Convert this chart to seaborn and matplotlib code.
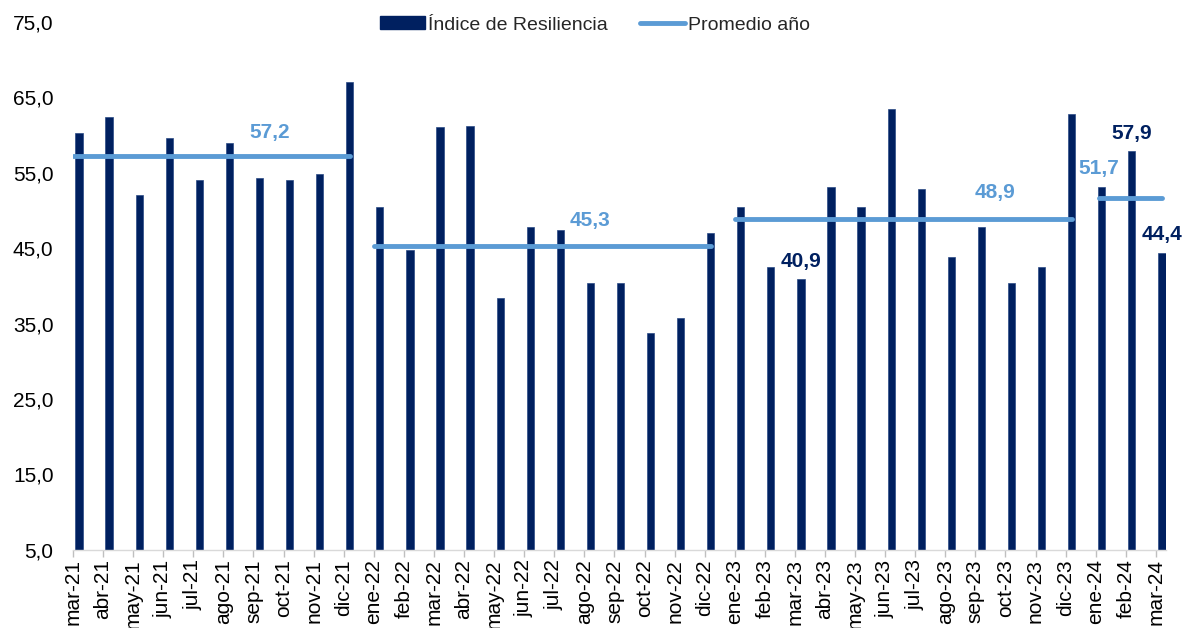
import numpy as np
import pandas as pd
import matplotlib
matplotlib.use("Agg")
import matplotlib.pyplot as plt
from matplotlib.patches import Patch
from matplotlib.lines import Line2D
import seaborn as sns

# ---------------- data ----------------
meses = ["mar-21", "abr-21", "may-21", "jun-21", "jul-21", "ago-21", "sep-21", "oct-21", "nov-21", "dic-21",
         "ene-22", "feb-22", "mar-22", "abr-22", "may-22", "jun-22", "jul-22", "ago-22", "sep-22", "oct-22",
         "nov-22", "dic-22",
         "ene-23", "feb-23", "mar-23", "abr-23", "may-23", "jun-23", "jul-23", "ago-23", "sep-23", "oct-23",
         "nov-23", "dic-23",
         "ene-24", "feb-24", "mar-24"]
indice = [60.3, 62.4, 52.0, 59.6, 54.0, 59.0, 54.3, 54.0, 54.9, 67.0,
          50.4, 44.7, 61.1, 61.2, 38.4, 47.8, 47.4, 40.4, 40.4, 33.7, 35.7, 47.0,
          50.4, 42.5, 40.9, 53.1, 50.4, 63.4, 52.8, 43.8, 47.8, 40.4, 42.5, 62.8,
          53.1, 57.9, 44.4]
anios = ["2021", "2022", "2023", "2024"]
promedio_anio = [57.2, 45.3, 48.9, 51.7]
etiquetados = ["mar-23", "feb-24", "mar-24"]
y_ticks = [5, 15, 25, 35, 45, 55, 65, 75]

# ---------------- style ----------------
sns.set_theme(style="white")
plt.rcParams["font.family"] = ["Liberation Sans", "DejaVu Sans"]

NAVY = "#002060"
LBLUE = "#5B9BD5"

df = pd.DataFrame({"mes": meses, "valor": indice})
df["anio"] = ["20" + m.split("-")[1] for m in meses]

W, H = 1185, 628
fig = plt.figure(figsize=(W / 100, H / 100), dpi=100)
x0, x1 = -0.2, 36.12
px_per_unit = 30.08
left_px = 73
right_px = left_px + (x1 - x0) * px_per_unit
bottom_px, top_px = 549.7, 22
ax = fig.add_axes([left_px / W, 1 - bottom_px / H, (right_px - left_px) / W, (bottom_px - top_px) / H])

sns.barplot(data=df, x="mes", y="valor", order=meses, color=NAVY, width=0.24,
            saturation=1, ax=ax, zorder=2, edgecolor="#2A4A85", linewidth=0.5)

# yearly averages
pos = {m: i for i, m in enumerate(meses)}
for anio, prom in zip(anios, promedio_anio):
    idx = [pos[m] for m in df.loc[df["anio"] == anio, "mes"]]
    xs = [idx[0] - (0.1 if anio == "2024" else 0.2), idx[-1]]
    sns.lineplot(x=xs, y=[prom, prom], color=LBLUE, linewidth=3.5, ax=ax, zorder=3,
                 solid_capstyle="round")

# average labels
lbl_x = {"2021": 6.35, "2022": 17.0, "2023": 30.45, "2024": 33.9}
lbl_dy = {"2021": 3.2, "2022": 3.4, "2023": 3.5, "2024": 3.9}
for anio, prom in zip(anios, promedio_anio):
    ax.text(lbl_x[anio], prom + lbl_dy[anio], f"{prom:.1f}".replace(".", ","),
            color=LBLUE, fontsize=15, fontweight="bold", ha="center", va="center", zorder=4)

# bar labels
for m in etiquetados:
    v = indice[pos[m]]
    ax.annotate(f"{v:.1f}".replace(".", ","), xy=(pos[m], v), xytext=(0, 6),
                textcoords="offset points", ha="center", va="bottom",
                color=NAVY, fontsize=15, fontweight="bold", zorder=4)

# axes
ax.set_xlim(x0, x1)
ax.set_ylim(5, 75)
ax.set_xticks(np.arange(len(meses)) - 0.2)
ax.set_xticklabels(meses, rotation=90, fontsize=15, color="#000000")
ax.set_yticks(y_ticks)
ax.set_yticklabels([f"{t:.1f}".replace(".", ",") for t in y_ticks], fontsize=15, color="#000000")
ax.tick_params(axis="x", length=5, width=1, color="#BFBFBF", pad=2, bottom=True)
ax.tick_params(axis="y", length=0, pad=14)
ax.set_xlabel("")
ax.set_ylabel("")
for s in ["top", "right", "left"]:
    ax.spines[s].set_visible(False)
ax.spines["bottom"].set_color("#D9D9D9")
ax.spines["bottom"].set_linewidth(1)
ax.grid(False)

handles = [Patch(facecolor=NAVY, edgecolor=NAVY), Line2D([0], [0], color=LBLUE, linewidth=3.5,
                                                         solid_capstyle="round")]
fig.legend(handles, ["Índice de Resiliencia", "Promedio año"], loc="center",
           bbox_to_anchor=(595 / W, 1 - 25 / H), ncol=2, frameon=False, fontsize=14,
           handlelength=2.3, handleheight=0.6, handletextpad=0.15, columnspacing=1.7)

fig.savefig("out.png", dpi=100)
